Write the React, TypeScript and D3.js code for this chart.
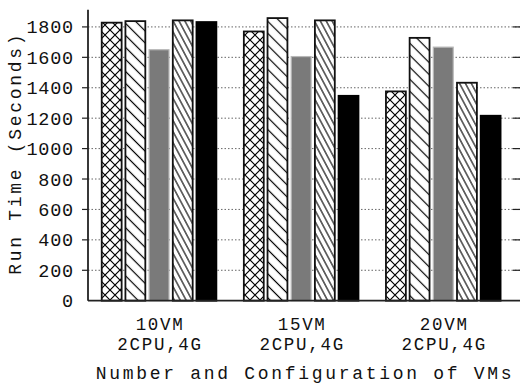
import { useRef, useEffect } from "react";
import * as d3 from "d3";

const groups = ["10VM\n2CPU,4G", "15VM\n2CPU,4G", "20VM\n2CPU,4G"];
const series1 = [1828, 1770, 1376];
const series2 = [1838, 1858, 1728];
const series3 = [1650, 1605, 1667];
const series4 = [1843, 1843, 1433];
const series5 = [1832, 1347, 1216];
const yTicks = [0, 200, 400, 600, 800, 1000, 1200, 1400, 1600, 1800];

const W = 521, H = 383;
const FONT = "'Liberation Mono', 'Courier New', monospace";

export default function App() {
  const svgRef = useRef<SVGSVGElement>(null);

  useEffect(() => {
    const svg = d3.select(svgRef.current!);
    svg.selectAll("*").remove();

    const left = 88, right = 520, top = 11.7, bottom = 300.7;
    const x = d3.scaleLinear().domain([-0.5, 2.54]).range([left, right]);
    const y = d3.scaleLinear().domain([0, 1900]).range([bottom, top]);

    // Patterns
    const defs = svg.append("defs");
    const cross = defs.append("pattern").attr("id", "p-cross").attr("patternUnits", "userSpaceOnUse")
      .attr("width", 10).attr("height", 10);
    cross.append("rect").attr("width", 10).attr("height", 10).attr("fill", "#fff");
    cross.append("path").attr("d", "M0,0L10,10M10,0L0,10").attr("stroke", "#000").attr("stroke-width", 1.2);

    const hatch = (id: string, spacing: number, angle: number, sw: number) => {
      const p = defs.append("pattern").attr("id", id).attr("patternUnits", "userSpaceOnUse")
        .attr("width", spacing).attr("height", 20).attr("patternTransform", `rotate(${angle})`);
      p.append("rect").attr("width", spacing).attr("height", 20).attr("fill", "#fff");
      p.append("line").attr("x1", spacing / 2).attr("x2", spacing / 2).attr("y1", 0).attr("y2", 20)
        .attr("stroke", "#000").attr("stroke-width", sw);
    };
    hatch("p-back", 8.5, -45, 1.2);
    hatch("p-steep", 5.2, -28, 1.1);

    const fills = ["url(#p-cross)", "url(#p-back)", "#7a7a7a", "url(#p-steep)", "#000"];
    const strokes = ["#111", "#111", "#b8b8b8", "#111", "#000"];
    const allSeries = [series1, series2, series3, series4, series5];

    const g = svg.append("g");

    // Grid
    g.selectAll(".grid").data(yTicks.filter(t => t > 0)).enter().append("line")
      .attr("x1", left).attr("x2", right).attr("y1", d => y(d)).attr("y2", d => y(d))
      .attr("stroke", "#666").attr("stroke-width", 1).attr("stroke-dasharray", "1.5,2");

    // Bars
    const slot = 1 / 6, bw = 0.14;
    allSeries.forEach((vals, si) => {
      g.selectAll(`.bar${si}`).data(vals).enter().append("rect")
        .attr("x", (_, gi) => x(gi + (si - 2) * slot - bw / 2))
        .attr("width", x(bw) - x(0))
        .attr("y", d => y(d))
        .attr("height", d => y(0) - y(d))
        .attr("fill", fills[si])
        .attr("stroke", strokes[si])
        .attr("stroke-width", si === 2 ? 1.2 : 1.8);
    });

    // Ticks
    g.selectAll(".tl").data(yTicks.filter(t => t > 0)).enter().append("line")
      .attr("x1", left - 6).attr("x2", left).attr("y1", d => y(d)).attr("y2", d => y(d))
      .attr("stroke", "#222").attr("stroke-width", 1.2);
    g.selectAll(".tr").data(yTicks.filter(t => t > 0)).enter().append("line")
      .attr("x1", right - 7).attr("x2", right).attr("y1", d => y(d)).attr("y2", d => y(d))
      .attr("stroke", "#222").attr("stroke-width", 1.2);

    // Axes
    g.append("line").attr("x1", left).attr("x2", left).attr("y1", top - 2).attr("y2", bottom)
      .attr("stroke", "#222").attr("stroke-width", 1.8);
    g.append("line").attr("x1", left).attr("x2", right).attr("y1", bottom).attr("y2", bottom)
      .attr("stroke", "#222").attr("stroke-width", 1.8);

    // Tick labels
    g.selectAll(".ylab").data(yTicks).enter().append("text")
      .attr("x", 74).attr("y", d => y(d) + 6.5)
      .attr("text-anchor", "end").attr("font-family", FONT).attr("font-size", 18.5)
      .attr("letter-spacing", 0.8).attr("fill", "#111")
      .text(d => d);

    groups.forEach((lab, gi) => {
      const t = g.append("text").attr("text-anchor", "middle").attr("font-family", FONT)
        .attr("font-size", 17.5).attr("letter-spacing", 1.7).attr("fill", "#111");
      lab.split("\n").forEach((ln, li) => {
        t.append("tspan").attr("x", x(gi) + 1).attr("y", 330 + li * 20).text(ln);
      });
    });

    g.append("text").attr("x", (left + right) / 2 + 1).attr("y", 379)
      .attr("text-anchor", "middle").attr("font-family", FONT).attr("font-size", 18)
      .attr("letter-spacing", 2.7).attr("fill", "#111")
      .text("Number and Configuration of VMs");

    g.append("text").attr("transform", `translate(21,${(top + bottom) / 2 - 3}) rotate(-90)`)
      .attr("text-anchor", "middle").attr("font-family", FONT).attr("font-size", 18)
      .attr("letter-spacing", 2.7).attr("fill", "#111")
      .text("Run Time (Seconds)");
  }, []);

  return (
    <div style={{ position: "absolute", left: 0, top: 0 }}>
      <svg ref={svgRef} width={W} height={H} style={{ display: "block", background: "#fff" }} />
    </div>
  );
}
